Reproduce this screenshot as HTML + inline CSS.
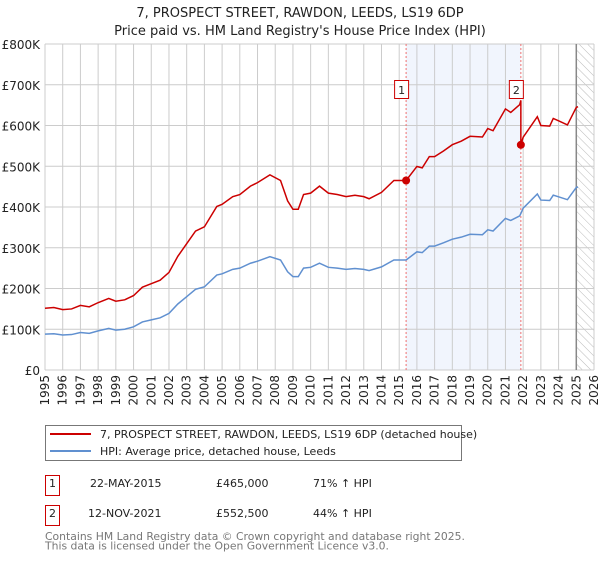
<!DOCTYPE html>
<html><head><meta charset="utf-8"><style>
body{margin:0;background:#fff;font-family:"Liberation Sans","DejaVu Sans",sans-serif}
svg text{font-family:"DejaVu Sans","Liberation Sans",sans-serif}
</style></head><body>
<svg width="600" height="560" viewBox="0 0 600 560" xmlns="http://www.w3.org/2000/svg">
<defs><pattern id="hatch" width="6" height="6" patternUnits="userSpaceOnUse" patternTransform="rotate(-45)"><line x1="0" y1="0" x2="0" y2="6" stroke="#bbb" stroke-width="1"/></pattern></defs>
<text x="300" y="17" text-anchor="middle" font-size="13" fill="#222">7, PROSPECT STREET, RAWDON, LEEDS, LS19 6DP</text>
<text x="300" y="35" text-anchor="middle" font-size="13" fill="#222">Price paid vs. HM Land Registry's House Price Index (HPI)</text>
<g id="plot"></g>
<g>
<rect x="45.5" y="425.5" width="416" height="35" fill="#fff" stroke="#777"/>
<line x1="50" y1="434" x2="91" y2="434" stroke="#cc0000" stroke-width="2"/>
<text x="100" y="438" font-size="11" fill="#222">7, PROSPECT STREET, RAWDON, LEEDS, LS19 6DP (detached house)</text>
<line x1="50" y1="451" x2="91" y2="451" stroke="#6090d0" stroke-width="2"/>
<text x="100" y="455" font-size="11" fill="#222">HPI: Average price, detached house, Leeds</text>
</g>
<g font-size="11" fill="#222">
<rect x="45.5" y="475.5" width="14" height="20" fill="#fff" stroke="#cc0000"/><text x="52.5" y="487" text-anchor="middle">1</text>
<text x="90" y="487">22-MAY-2015</text><text x="216" y="487">£465,000</text><text x="313" y="487">71% ↑ HPI</text>
<rect x="45.5" y="505.5" width="14" height="20" fill="#fff" stroke="#cc0000"/><text x="52.5" y="517" text-anchor="middle">2</text>
<text x="88" y="517">12-NOV-2021</text><text x="216" y="517">£552,500</text><text x="313" y="517">44% ↑ HPI</text>
</g>
<text x="45" y="540" font-size="10.8" fill="#777">Contains HM Land Registry data © Crown copyright and database right 2025.</text>
<text x="45" y="549.5" font-size="10.8" fill="#777">This data is licensed under the Open Government Licence v3.0.</text>
</svg>
<script>
const yearsT=[1995,1995.5,1996,1996.5,1997,1997.5,1998,1998.6,1999,1999.5,2000,2000.5,2001,2001.5,2002,2002.5,2003,2003.5,2004,2004.7,2005,2005.6,2006,2006.6,2007,2007.7,2008.3,2008.7,2009,2009.3,2009.6,2010,2010.5,2011,2011.5,2012,2012.5,2013,2013.3,2014,2014.7,2015,2015.39,2016,2016.3,2016.7,2017,2017.5,2018,2018.5,2019,2019.7,2020,2020.3,2021,2021.3,2021.8,2021.87,2022,2022.8,2023,2023.5,2023.7,2024,2024.5,2025,2025.1];
const hpiK=[88,89,86,87,92,90,96,102,98,100,106,118,123,128,139,162,180,198,204,233,236,247,250,262,267,278,270,241,229,229,250,252,262,252,250,247,249,247,244,253,270,270,270,290,288,304,304,312,321,326,333,332,344,341,372,367,378,384,397,432,417,416,429,425,418,448,449];
const sales=[{n:"1",t:2015.39,v:465},{n:"2",t:2021.87,v:552.5}];
const yTicks=[0,100,200,300,400,500,600,700,800];
const xTicks=[];for(let y=1995;y<=2026;y++)xTicks.push(y);
const X0=45,X1=594,Y0=370,Y1=44;
const xs=t=>X0+(t-1995)*(X1-X0)/31;
const ys=v=>Y0-v*(Y0-Y1)/800;
const NS="http://www.w3.org/2000/svg";
const plot=document.getElementById('plot');
function mk(tag,attrs,parent){const e=document.createElementNS(NS,tag);for(const k in attrs)e.setAttribute(k,attrs[k]);(parent||plot).appendChild(e);return e;}
function hpiAt(t){for(let i=1;i<yearsT.length;i++){if(t<=yearsT[i]){const f=(t-yearsT[i-1])/(yearsT[i]-yearsT[i-1]);return hpiK[i-1]+f*(hpiK[i]-hpiK[i-1]);}}return hpiK[hpiK.length-1];}
const sh=mk('rect',{x:xs(sales[0].t),y:Y1,width:xs(sales[1].t)-xs(sales[0].t),height:Y0-Y1,fill:'#eef2fc',opacity:0.8});


const ht=mk('rect',{x:xs(2025.0),y:Y1,width:X1-xs(2025.0),height:Y0-Y1,fill:'url(#hatch)'});


yTicks.forEach(v=>{
const g=mk('line',{x1:X0,x2:X1,y1:ys(v),y2:ys(v),stroke:'#ccc','stroke-width':1});


const tx=mk('text',{x:40,y:ys(v)+5,'text-anchor':'end','font-size':12,fill:'#222'});
tx.textContent=v===0?'£0':'£'+v+'K';


});
xTicks.forEach(y=>{
const g=mk('line',{x1:xs(y),x2:xs(y),y1:Y1,y2:Y0,stroke:'#ccc','stroke-width':1});


const tx=mk('text',{x:0,y:0,'text-anchor':'end','font-size':12,fill:'#222',transform:`translate(${xs(y)+4},375) rotate(-90)`});
tx.textContent=y;


});
const nl=mk('line',{x1:xs(2025.0),x2:xs(2025.0),y1:Y1,y2:Y0,stroke:'#888','stroke-width':1.5});


sales.forEach(s=>{
const l=mk('line',{x1:xs(s.t),x2:xs(s.t),y1:Y1,y2:Y0,stroke:'#f07070','stroke-width':1,'stroke-dasharray':'2,2'});


});
const hp=mk('polyline',{points:yearsT.map((t,i)=>xs(t)+','+ys(hpiK[i])).join(' '),fill:'none',stroke:'#6090d0','stroke-width':1.5});


const r1=sales[0].v/hpiAt(sales[0].t),r2=sales[1].v/hpiAt(sales[1].t);
const pts=[];
yearsT.forEach((t,i)=>{if(t<sales[1].t)pts.push([t,hpiK[i]*r1]);});
pts.push([sales[1].t,hpiAt(sales[1].t)*r1]);
pts.push([sales[1].t,sales[1].v]);
yearsT.forEach((t,i)=>{if(t>sales[1].t)pts.push([t,hpiK[i]*r2]);});
const pl=mk('polyline',{points:pts.map(p=>xs(p[0])+','+ys(p[1])).join(' '),fill:'none',stroke:'#cc0000','stroke-width':1.5});


sales.forEach(s=>{
const c=mk('circle',{cx:xs(s.t),cy:ys(s.v),r:4,fill:'#cc0000'});


const b=mk('rect',{x:xs(s.t)-11.5,y:80.5,width:14,height:18,fill:'#fff',stroke:'#cc0000'});


const tx=mk('text',{x:xs(s.t)-4.5,y:94,'text-anchor':'middle','font-size':11,fill:'#222'});
tx.textContent=s.n;


});
</script>
</body></html>
